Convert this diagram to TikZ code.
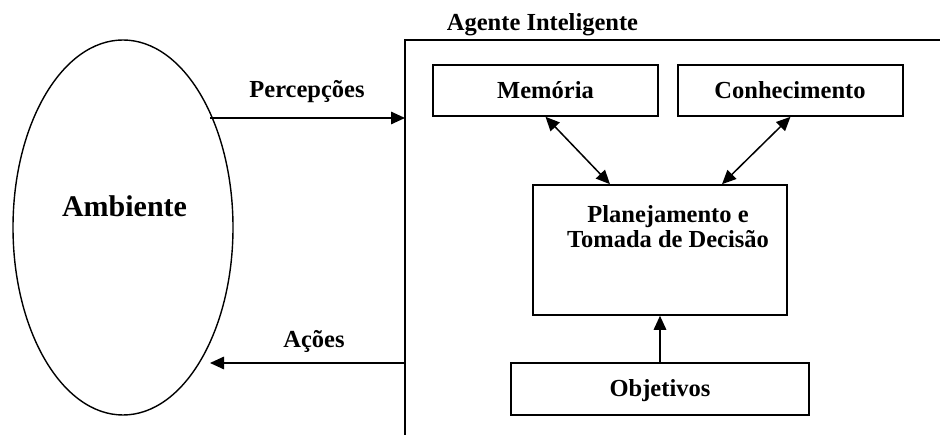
\documentclass[tikz,border=0pt]{standalone}
\usepackage{fontspec}
\setmainfont{Liberation Serif}
\usetikzlibrary{arrows.meta,shapes.geometric}
\begin{document}
\begin{tikzpicture}[x=1pt,y=1pt,
  txt/.style={font=\fontsize{24.5}{28}\selectfont\bfseries, inner sep=0pt, anchor=base},
  bigtxt/.style={font=\fontsize{30}{34}\selectfont\bfseries, inner sep=0pt, anchor=base},
  box/.style={draw, line width=1.6pt, rectangle, inner sep=0pt},
  tip/.tip={Triangle[length=14pt,width=12.5pt]},
  arr/.style={line width=1.5pt, -tip},
  dbl/.style={line width=1.5pt, tip-tip}]
\useasboundingbox (0,0) rectangle (940,435);

% environment
\node[draw, ellipse, line width=1.4pt, minimum width=220pt, minimum height=375pt, inner sep=0pt] (env) at (123,207.5) {};
\node[bigtxt] (envtxt) at (124.5,218) {Ambiente};

% agent frame
\coordinate (fbot) at (405,0);
\coordinate (fcorner) at (405,395);
\coordinate (fright) at (940,395);
\draw[line width=1.6pt] (fbot) -- (fcorner) -- (fright);
\node[txt] (agent) at (542.5,404) {Agente Inteligente};

% inner blocks
\node[box, minimum width=225pt, minimum height=51pt] (mem) at (545.5,344.5) {};
\node[txt] (memtxt) at (545.5,336) {Memória};
\node[box, minimum width=225pt, minimum height=51pt] (con) at (790.5,344.5) {};
\node[txt] (contxt) at (790,336) {Conhecimento};
\node[box, minimum width=254pt, minimum height=130pt] (plan) at (660,185) {};
\node[txt] (plan1) at (668,212) {Planejamento e};
\node[txt] (plan2) at (668,187) {Tomada de Decisão};
\node[box, minimum width=298pt, minimum height=52pt] (obj) at (660,46) {};
\node[txt] (objtxt) at (660,38) {Objetivos};

% perception and action flows
\coordinate (pstart) at (210,317);
\coordinate (pend) at (405,317);
\coordinate (astart) at (405,72);
\coordinate (aend) at (210,72);
\draw[arr] (pstart) -- (pend);
\node[txt] (perc) at (307,337) {Percepções};
\draw[arr] (astart) -- (aend);
\node[txt] (acoes) at (314,87) {Ações};

% internal links
\draw[dbl] (mem.south) -- ([xshift=-50pt]plan.north);
\draw[dbl] (con.south) -- ([xshift=62pt]plan.north);
\draw[arr] (obj.north) -- (plan.south);
\end{tikzpicture}
\end{document}
